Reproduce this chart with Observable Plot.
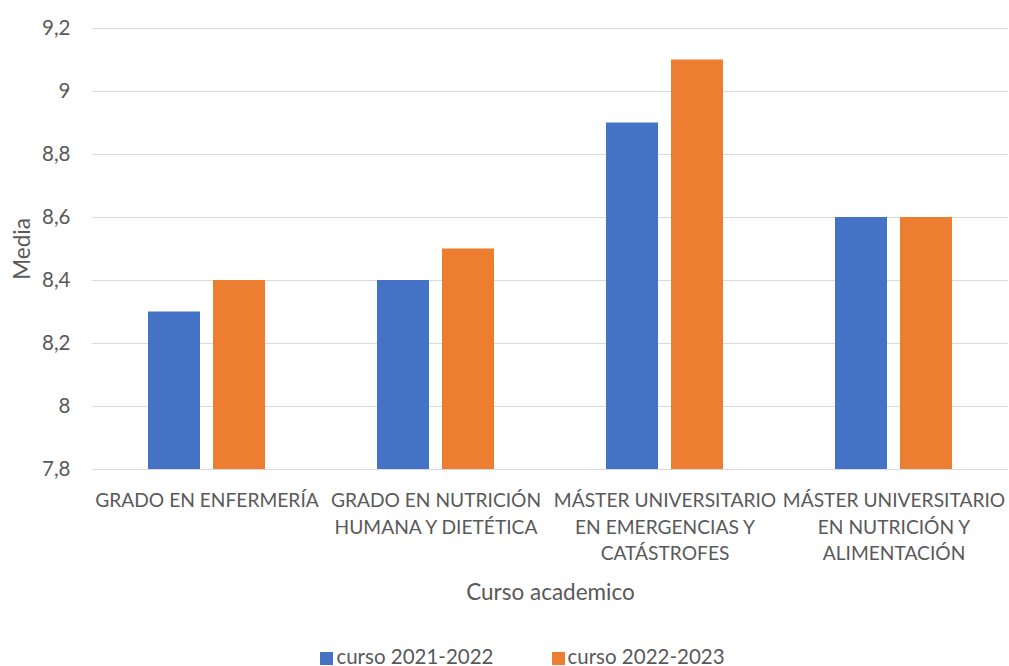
<!DOCTYPE html>
<html><head><meta charset="utf-8">
<script src="https://cdn.jsdelivr.net/npm/d3@7"></script>
<script src="https://cdn.jsdelivr.net/npm/@observablehq/plot@0.6"></script>
<style>
body{margin:0;background:#fff;font-family:Lato,"Open Sans",sans-serif;}
#chart svg{display:block;}
#legend{display:flex;justify-content:center;gap:58px;font-size:20.5px;color:#595959;margin-top:8px;line-height:24px;padding-left:36px;}
#legend span.sw{display:inline-block;width:13px;height:13px;margin-right:3px;vertical-align:-1px;}
</style></head>
<body>
<div id="chart"></div>
<div id="legend"></div>
<script>
const categories = ["GRADO EN ENFERMERÍA", "GRADO EN NUTRICIÓN\nHUMANA Y DIETÉTICA", "MÁSTER UNIVERSITARIO\nEN EMERGENCIAS Y\nCATÁSTROFES", "MÁSTER UNIVERSITARIO\nEN NUTRICIÓN Y\nALIMENTACIÓN"];
const series = ["curso 2021-2022", "curso 2022-2023"];
const values2122 = [8.3, 8.4, 8.9, 8.6];
const values2223 = [8.4, 8.5, 9.1, 8.6];
const colors = ["#4472C4", "#ED7D31"];
const yTicks = [7.8, 8, 8.2, 8.4, 8.6, 8.8, 9, 9.2];
const xTitle = "Curso academico";
const yTitle = "Media";

const data = [];
categories.forEach((c, i) => {
  data.push({cat: c, serie: series[0], v: values2122[i]});
  data.push({cat: c, serie: series[1], v: values2223[i]});
});
const fmt = d => String(+d.toFixed(1)).replace(".", ",");

const chart = Plot.plot({
  width: 1009,
  height: 636,
  marginTop: 28,
  marginBottom: 167,
  marginLeft: 91,
  marginRight: 1,
  style: {fontFamily: "Lato, 'Open Sans', sans-serif", fontSize: "20.5px", color: "#595959", background: "#fff"},
  fx: {domain: categories, padding: 0, label: null},
  x: {domain: series, paddingInner: 0.2, paddingOuter: 0.86, axis: null},
  y: {domain: [7.8, 9.2], ticks: yTicks, label: null},
  color: {domain: series, range: colors},
  marks: [
    Plot.gridY(yTicks, {stroke: "#d9d9d9", strokeOpacity: 1, strokeWidth: 1}),
    Plot.barY(data, {fx: "cat", x: "serie", y1: 7.8, y2: "v", fill: "serie"}),
    Plot.axisY(yTicks, {tickFormat: fmt, tickSize: 0, tickPadding: 22, fontSize: 20.5, fill: "#595959", label: null}),
    Plot.text([yTitle], {fx: () => categories[0], text: d => d, frameAnchor: "left", rotate: -90, textAnchor: "middle",
      lineAnchor: "middle", dx: -70, fontSize: 22.5, fill: "#595959"}),
    Plot.axisFx({anchor: "bottom", tickSize: 0, tickPadding: 19, fontSize: 19.2, fill: "#595959", lineHeight: 1.38, label: null}),
    Plot.text([xTitle], {fx: () => categories[1], text: d => d, frameAnchor: "bottom-right", textAnchor: "middle",
      lineAnchor: "middle", dy: 123, fontSize: 22.5, fill: "#595959"}),
    Plot.ruleY([7.8], {stroke: "#d9d9d9"})
  ]
});
document.getElementById("chart").appendChild(chart);

const lg = document.getElementById("legend");
series.forEach((s, i) => {
  const d = document.createElement("div");
  d.innerHTML = `<span class="sw" style="background:${colors[i]}"></span>${s}`;
  lg.appendChild(d);
});
</script>
</body></html>
